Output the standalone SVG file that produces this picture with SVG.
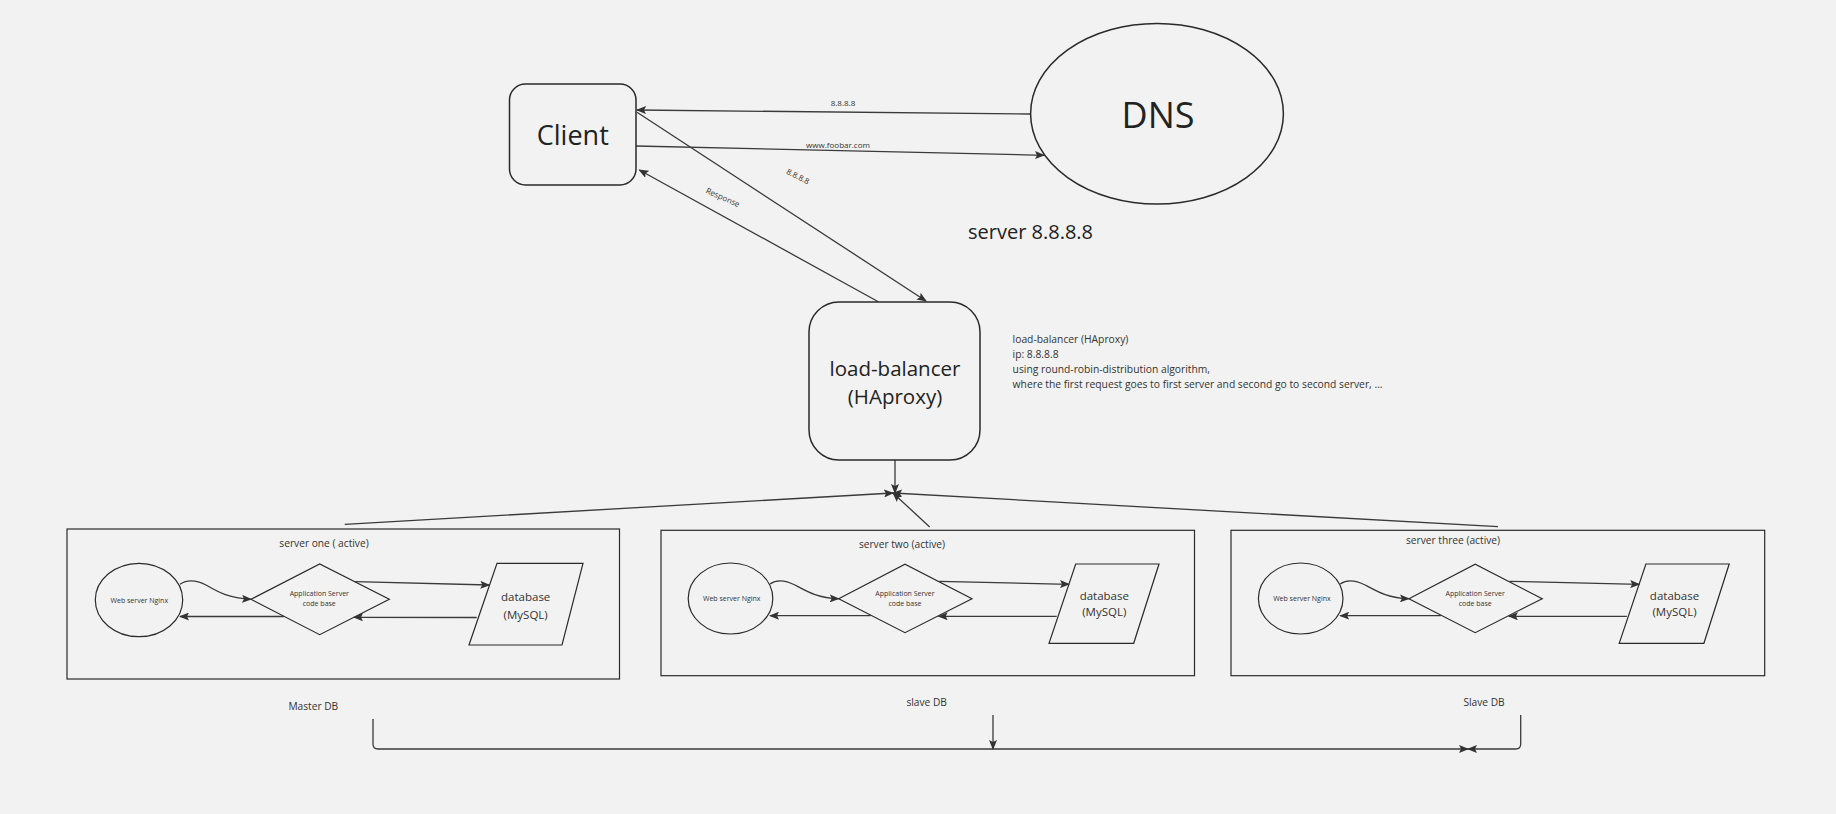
<svg xmlns="http://www.w3.org/2000/svg" width="1836" height="814" viewBox="0 0 1836 814">
<defs>
<marker id="arr" markerUnits="userSpaceOnUse" markerWidth="10" markerHeight="8" refX="9" refY="4" orient="auto">
<path d="M0,0 L10,4 L0,8 L2,4 z" fill="#333"/>
</marker>
<style>
.bg{fill:#f2f2f2}
.node{fill:none;stroke:#2a2a2a;stroke-width:1.5}
.thin{fill:none;stroke:#2a2a2a;stroke-width:1.2}
.conn{fill:none;stroke:#3a3a3a;stroke-width:1.3}
.arrow{marker-end:url(#arr)}
text{font-family:"Open Sans","Noto Sans","Liberation Sans",sans-serif;fill:#222}
.mid{text-anchor:middle}
.big{font-size:27px}
.dns{font-size:36px}
.lb{font-size:20.5px}
.srv{font-size:20px}
.note{font-size:10.3px;fill:#333}
.lbl{font-size:8px;fill:#333}
.title{font-size:10.2px;fill:#333}
.tiny{font-size:7px;fill:#333}
.db{font-size:11.5px;fill:#333}
</style>
</defs>
<rect class="bg" x="0" y="0" width="1836" height="814"/>

<g id="connectors">
<line class="conn arrow" x1="1030" y1="114" x2="637" y2="110"/>
<line class="conn arrow" x1="636" y1="146" x2="1044" y2="155.3"/>
<line class="conn arrow" x1="637" y1="112.3" x2="926" y2="301"/>
<line class="conn arrow" x1="878.3" y1="301.7" x2="639.3" y2="170"/>
<line class="conn arrow" x1="895" y1="460" x2="895" y2="493"/>
<line class="conn arrow" x1="344.7" y1="524.3" x2="893" y2="493"/>
<line class="conn arrow" x1="929.7" y1="527" x2="893" y2="493"/>
<line class="conn arrow" x1="1498" y1="526.7" x2="893" y2="493"/>
<path class="conn arrow" d="M373,719 V744 Q373,749 378,749 H1468"/>
<line class="conn arrow" x1="993" y1="715" x2="993" y2="749"/>
<path class="conn arrow" d="M1520.7,715 V744 Q1520.7,749 1515.7,749 H1468"/>
<text class="lbl mid" x="843" y="105.7">8.8.8.8</text>
<text class="lbl mid" x="838" y="147.5">www.foobar.com</text>
<text class="lbl mid" transform="translate(796.7,179) rotate(27)">8.8.8.8</text>
<text class="lbl mid" transform="translate(721.7,200) rotate(24)">Response</text>
</g>

<g id="client">
<rect class="node" x="509.5" y="84" width="126.5" height="101" rx="16"/>
<text class="big mid" x="572.8" y="145">Client</text>
</g>

<g id="dns">
<ellipse class="node" cx="1157" cy="113.7" rx="126.4" ry="90.3"/>
<text class="dns mid" x="1158" y="128.3">DNS</text>
</g>
<g id="dns-label">
<text class="srv" x="968" y="239">server 8.8.8.8</text>
</g>

<g id="load-balancer">
<rect class="node" x="809" y="302" width="171" height="158" rx="30"/>
<text class="lb mid" x="895" y="376">load-balancer</text>
<text class="lb mid" x="895" y="404">(HAproxy)</text>
</g>
<g id="lb-note">
<text class="note" x="1012.6" y="342.7">load-balancer (HAproxy)</text>
<text class="note" x="1012.6" y="357.7">ip: 8.8.8.8</text>
<text class="note" x="1012.6" y="372.7">using round-robin-distribution algorithm,</text>
<text class="note" x="1012.6" y="387.7">where the first request goes to first server and second go to second server, ...</text>
</g>

<g id="server-one">
<rect class="thin" x="67" y="529" width="552.5" height="150"/>
<text class="title mid" x="324" y="546.7">server one ( active)</text>
<g id="s1-web">
<ellipse class="thin" cx="139" cy="600" rx="43.7" ry="36.7"/>
<text class="tiny mid" x="139.3" y="602.5">Web server Nginx</text>
</g>
<g id="s1-app">
<polygon class="thin" points="251,599.3 319.7,564 389.3,599.3 319.7,634.7"/>
<text class="tiny mid" x="319.3" y="596">Application Server</text>
<text class="tiny mid" x="319.3" y="606.3">code base</text>
</g>
<g id="s1-db">
<polygon class="thin" points="497,563.3 583,563.3 562,645 469,645"/>
<text class="db mid" x="525.7" y="601">database</text>
<text class="db mid" x="525.7" y="619">(MySQL)</text>
</g>
<g id="s1-connectors">
<path class="conn arrow" d="M180,584.3 C188,579 196,580 206,585 C218,592 228,598 251,599.3"/>
<line class="conn arrow" x1="355" y1="581.7" x2="489.3" y2="585"/>
<line class="conn arrow" x1="476.7" y1="617.5" x2="354" y2="617.3"/>
<line class="conn arrow" x1="284" y1="616.5" x2="180" y2="616.5"/>
</g>
<text class="title mid" x="313.3" y="709.5">Master DB</text>
</g>

<g id="server-two">
<rect class="thin" x="661" y="530.3" width="533.5" height="145.4"/>
<text class="title mid" x="902" y="547.7">server two (active)</text>
<g id="s2-web">
<ellipse class="thin" cx="730.5" cy="598.5" rx="42.3" ry="35.5"/>
<text class="tiny mid" x="731.7" y="601">Web server Nginx</text>
</g>
<g id="s2-app">
<polygon class="thin" points="838.7,598.7 905,564.3 972,598.7 905,632.7"/>
<text class="tiny mid" x="905" y="596">Application Server</text>
<text class="tiny mid" x="905" y="606">code base</text>
</g>
<g id="s2-db">
<polygon class="thin" points="1075.7,564 1159,564 1133.7,643.3 1049,643.3"/>
<text class="db mid" x="1104.3" y="600">database</text>
<text class="db mid" x="1104.3" y="616">(MySQL)</text>
</g>
<g id="s2-connectors">
<path class="conn arrow" d="M770,584 C777,579 785,580 795,585 C808,592 818,598 838.7,598.7"/>
<line class="conn arrow" x1="939.3" y1="581.3" x2="1069" y2="584.3"/>
<line class="conn arrow" x1="1056.7" y1="616.3" x2="938.7" y2="616.3"/>
<line class="conn arrow" x1="870.7" y1="615.7" x2="770" y2="615.7"/>
</g>
<text class="title mid" x="926.7" y="705.5">slave DB</text>
</g>

<g id="server-three">
<rect class="thin" x="1231" y="530.3" width="533.7" height="145.4"/>
<text class="title mid" x="1453" y="544">server three (active)</text>
<g id="s3-web">
<ellipse class="thin" cx="1300.7" cy="598.5" rx="42.3" ry="35.5"/>
<text class="tiny mid" x="1301.9" y="601">Web server Nginx</text>
</g>
<g id="s3-app">
<polygon class="thin" points="1408.9,598.7 1475.2,564.3 1542.2,598.7 1475.2,632.7"/>
<text class="tiny mid" x="1475.2" y="596">Application Server</text>
<text class="tiny mid" x="1475.2" y="606">code base</text>
</g>
<g id="s3-db">
<polygon class="thin" points="1645.9,564 1729.2,564 1703.9,643.3 1619.2,643.3"/>
<text class="db mid" x="1674.5" y="600">database</text>
<text class="db mid" x="1674.5" y="616">(MySQL)</text>
</g>
<g id="s3-connectors">
<path class="conn arrow" d="M1340.2,584 C1347.2,579 1355.2,580 1365.2,585 C1378.2,592 1388.2,598 1408.9,598.7"/>
<line class="conn arrow" x1="1509.5" y1="581.3" x2="1639.2" y2="584.3"/>
<line class="conn arrow" x1="1626.9" y1="616.3" x2="1508.9" y2="616.3"/>
<line class="conn arrow" x1="1440.9" y1="615.7" x2="1340.2" y2="615.7"/>
</g>
<text class="title mid" x="1484" y="705.5">Slave DB</text>
</g>
</svg>
